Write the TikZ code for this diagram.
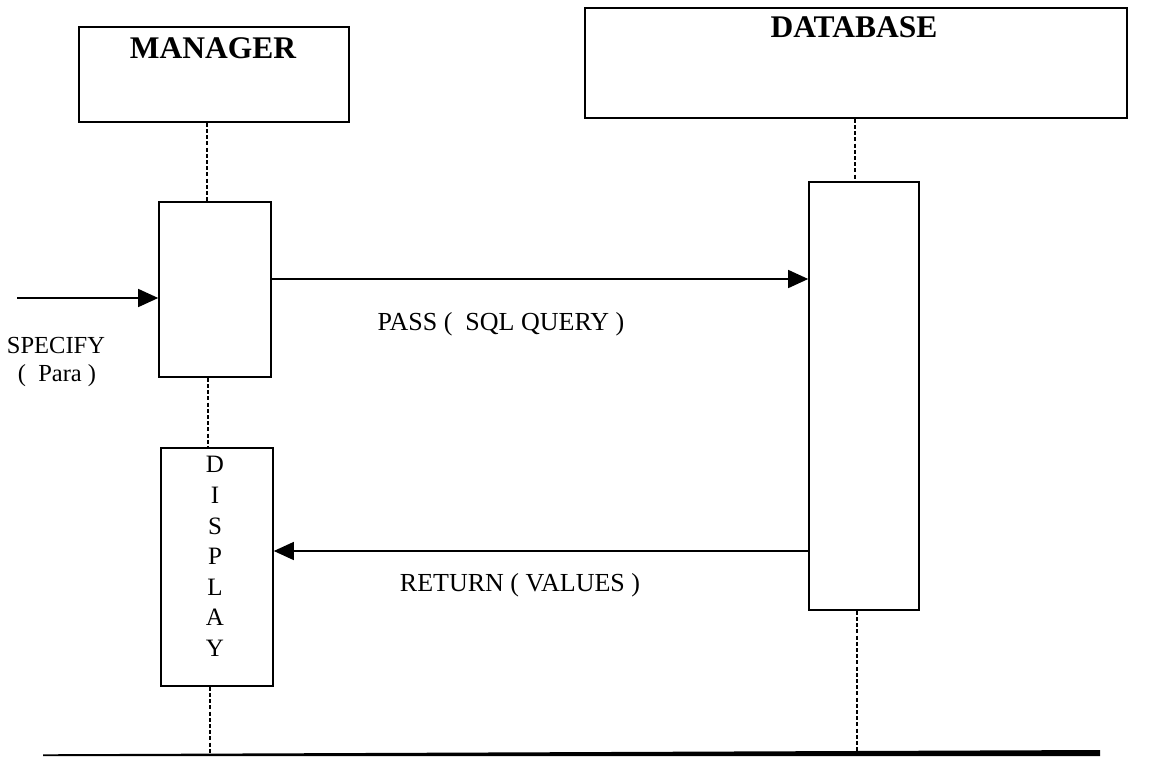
\documentclass[tikz,border=0pt]{standalone}
\usepackage{fontspec}
\setmainfont{Liberation Serif}
\usetikzlibrary{arrows.meta}

\begin{document}
\begin{tikzpicture}[x=1pt,y=-1pt,
  box/.style={draw=black, line width=1.6pt, inner sep=0pt, fill=white},
  life/.style={line width=1.3pt, dash pattern=on 4pt off 2.2pt},
  msg/.style={line width=1.4pt, -{Triangle[length=20pt,width=18pt]}},
  title/.style={font=\fontsize{31.5}{36}\selectfont\bfseries, inner sep=0pt, anchor=base},
  lbl/.style={font=\fontsize{26}{30}\selectfont, inner sep=0pt, anchor=base},
  slbl/.style={font=\fontsize{24.5}{28}\selectfont, inner sep=0pt, anchor=base}]

\useasboundingbox (0,0) rectangle (1157,756);

% object heads
\node[box, minimum width=270pt, minimum height=95pt]  (mgr) at (214,74.5) {};
\node[box, minimum width=542pt, minimum height=110pt] (db)  at (856,63) {};
\node[title] (mgrt) at (213,58) {MANAGER};
\node[title] (dbt)  at (854,37) {DATABASE};

% activation bars
\node[box, minimum width=112pt, minimum height=175pt] (act)   at (215,289.5) {};
\node[box, minimum width=112pt, minimum height=238pt] (disp)  at (217,567) {};
\node[box, minimum width=110pt, minimum height=428pt] (dbact) at (864,396) {};
\node[font=\fontsize{25}{30.6}\selectfont, align=center, inner sep=0pt] (disptext) at (215,556.5) {D\\I\\S\\P\\L\\A\\Y};

% lifelines
\coordinate (m1) at (207,0);
\coordinate (m2) at (208,0);
\coordinate (m3) at (210,754);
\draw[life] (mgr.south -| m1) -- (act.north -| m1);
\draw[life] (act.south -| m2) -- (disp.north -| m2);
\draw[life] (disp.south -| m3) -- (m3);
\coordinate (d1) at (855,0);
\coordinate (d2) at (857,754);
\draw[life] (db.south -| d1) -- (dbact.north -| d1);
\draw[life] (dbact.south -| d2) -- (d2);

% messages
\coordinate (src) at (17,298);
\draw[msg] (src) -- (act.west |- src);
\coordinate (passy) at (0,279);
\draw[msg] (act.east |- passy) -- (dbact.west |- passy);
\coordinate (rety) at (0,551);
\draw[msg] (dbact.west |- rety) -- (disp.east |- rety);

% message labels
\node[lbl]  (pass) at (501,330) {PASS (\ \ SQL QUERY )};
\node[lbl]  (ret)  at (520,591) {RETURN ( VALUES )};
\node[slbl] (spec) at (56,353) {SPECIFY};
\node[slbl] (para) at (57,381) {(\ \ Para )};

% base rule
\fill (43,754.3) -- (1100,750) -- (1100,756) -- (43,756) -- cycle;
\end{tikzpicture}
\end{document}
